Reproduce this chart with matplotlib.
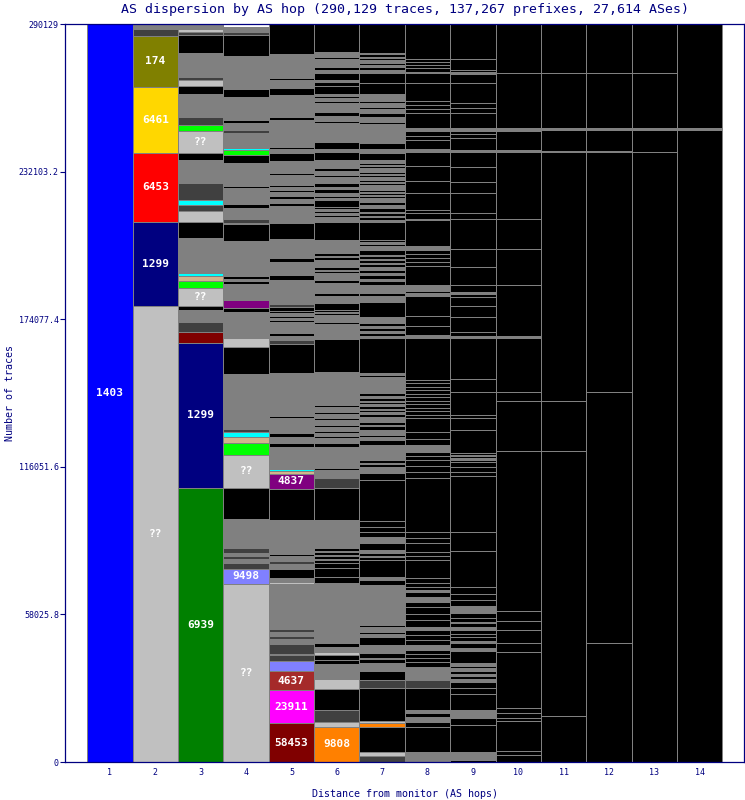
import matplotlib
matplotlib.use("Agg")
import matplotlib.pyplot as plt
import numpy as np

plt.rcParams['font.family'] = ['DejaVu Sans Mono']

TOTAL = 290129
hops = list(range(1, 15))
ytick_vals = [0, 58025.8, 116051.6, 174077.4, 232103.2, 290129]
ytick_labels = ["0", "58025.8", "116051.6", "174077.4", "232103.2", "290129"]

# segments bottom -> top : (AS key, thousands of traces)
# K = trace ended, G = many small ASes, D = dark grey, C/T/L = small unlabeled ASes
hop1 = [("1403", 290.13)]
hop2 = [("??", 179.46), ("1299", 33.04), ("6453", 27.14), ("6461", 25.96), ("174", 20.06), ("D", 2.75), ("G", 1.73)]
hop3 = [("6939", 107.88), ("1299", 56.79), ("58453", 4.56), ("D", 3.70), ("G", 4.84), ("K", 1.69), ("??", 7.08),
        ("L", 2.75), ("T", 1.85), ("C", 1.06), ("G", 13.77), ("K", 6.53), ("??", 4.33), ("D", 2.12), ("C", 1.97),
        ("D", 6.80), ("L", 0.51), ("G", 8.53), ("K", 2.87), ("??", 8.65), ("L", 2.12), ("D", 3.26), ("C", 0.51),
        ("G", 3.93), ("T", 0.39), ("G", 4.33), ("K", 2.87), ("??", 2.36), ("D", 1.46), ("G", 9.44), ("K", 6.80),
        ("D", 1.34), ("??", 1.30), ("G", 1.74)]
hop4 = [("??", 70.01), ("9498", 6.02), ("D", 2.12), ("G", 1.57), ("D", 1.18), ("G", 1.18), ("D", 1.97),
        ("G", 11.64), ("K", 12.19), ("??", 12.98), ("L", 4.60), ("T", 2.48), ("C", 1.97),
        ("D", 0.90), ("G", 0.90), ("D", 0.39), ("G", 0.67), ("4837", 0.67), ("G", 0.67), ("D", 0.39), ("G", 0.67),
        ("D", 0.39), ("G", 0.67), ("D", 0.39), ("G", 2.32),
        ("G", 13.49), ("K", 10.89), ("??", 3.26), ("G", 10.38), ("K", 1.42), ("4837", 3.30), ("T", 0.51),
        ("G", 5.62), ("K", 1.18), ("G", 0.79), ("K", 1.46), ("G", 13.65), ("K", 6.53), ("G", 0.67), ("D", 1.57),
        ("G", 4.33), ("K", 1.57), ("G", 6.29), ("K", 0.59), ("G", 2.75), ("K", 0.59), ("G", 5.90), ("K", 2.87),
        ("L", 2.24), ("C", 0.67), ("G", 6.02), ("D", 1.06), ("G", 2.87), ("K", 1.18), ("G", 9.05), ("K", 2.87),
        ("G", 3.15), ("K", 0.39), ("G", 9.71), ("K", 8.14), ("D", 1.30), ("G", 1.93)]
hop5 = [("58453", 15.22), ("23911", 13.18), ("4637", 7.20), ("9498", 3.93), ("D", 2.36), ("G", 0.39), ("D", 4.21),
        ("G", 1.97), ("D", 1.18), ("G", 1.57), ("D", 1.18), ("9808", 0.39), ("G", 17.22), ("??", 0.79), ("G", 1.57),
        ("K", 3.42), ("G", 2.08), ("D", 1.30), ("G", 1.97), ("K", 0.55), ("G", 1.97), ("G", 11.52), ("K", 12.31),
        ("4837", 5.90), ("T", 1.06), ("C", 0.90), ("G", 8.65), ("K", 1.34), ("G", 2.48), ("K", 1.69), ("G", 0.67),
        ("G", 2.36), ("K", 0.59), ("G", 2.36), ("K", 0.59), ("G", 3.54), ("G", 13.49), ("K", 11.17), ("D", 1.69),
        ("G", 1.57), ("K", 1.30), ("G", 2.64), ("G", 1.57), ("K", 0.67), ("G", 0.90), ("K", 0.67), ("G", 1.30),
        ("K", 0.79), ("K", 1.57), ("D", 1.06), ("G", 9.44), ("K", 2.08), ("G", 5.11), ("K", 1.57), ("G", 7.35),
        ("K", 6.53), ("G", 6.45), ("K", 1.42), ("G", 1.34), ("K", 1.30), ("G", 1.69), ("K", 0.67), ("G", 1.18),
        ("K", 0.67), ("G", 2.75), ("K", 0.63), ("G", 0.67), ("K", 0.67), ("G", 4.84), ("K", 3.03), ("G", 1.81),
        ("K", 0.67), ("G", 0.39), ("K", 0.39), ("G", 8.14), ("K", 0.63), ("G", 1.18), ("K", 1.06), ("G", 8.65),
        ("K", 2.87), ("G", 3.03), ("K", 0.79), ("G", 9.44), ("K", 11.69)]
hop6 = [("9808", 13.88), ("??", 1.73), ("D", 4.96), ("K", 8.14), ("??", 3.93), ("G", 2.87), ("D", 0.39), ("G", 2.52),
        ("K", 1.77), ("K", 1.89), ("??", 1.30), ("G", 1.97), ("K", 1.34), ("G", 3.66), ("D", 0.39), ("G", 19.55),
        ("K", 2.60), ("K", 3.30), ("K", 1.97), ("K", 1.18), ("G", 0.39), ("K", 1.18), ("G", 0.39), ("K", 1.18),
        ("G", 0.39), ("K", 1.18), ("G", 11.13), ("K", 12.70), ("D", 3.70), ("G", 1.57), ("K", 0.59), ("G", 1.18),
        ("K", 0.59), ("G", 1.30), ("G", 7.20), ("K", 1.34),
        ("G", 1.97), ("K", 0.79), ("G", 1.18), ("K", 0.79), ("G", 1.57), ("K", 0.79), ("G", 1.97), ("K", 0.79),
        ("G", 1.57), ("K", 0.79), ("G", 1.97), ("K", 0.79), ("G", 0.79),
        ("G", 12.43), ("K", 12.86), ("G", 5.90), ("K", 0.90), ("G", 2.64), ("K", 0.79), ("G", 0.39), ("K", 0.79),
        ("K", 2.87), ("G", 2.64), ("K", 1.06), ("G", 3.93), ("K", 1.30), ("G", 2.64), ("K", 0.79), ("G", 0.59),
        ("K", 1.22), ("G", 2.64), ("K", 0.98), ("G", 0.59), ("K", 1.06), ("G", 1.97), ("K", 0.59), ("G", 2.67),
        ("K", 7.20), ("G", 1.97), ("K", 0.79), ("G", 0.79), ("K", 0.79), ("G", 0.79), ("K", 0.79), ("K", 2.64),
        ("G", 0.67), ("K", 0.90), ("G", 1.06), ("K", 1.57), ("G", 1.02), ("K", 1.34), ("G", 2.60), ("K", 0.67),
        ("G", 1.30), ("K", 1.34), ("G", 3.26), ("K", 2.87), ("G", 1.34), ("K", 2.60), ("G", 6.29), ("K", 0.59),
        ("G", 0.79), ("K", 0.59), ("G", 0.67), ("G", 1.57), ("K", 1.30), ("G", 3.70), ("K", 0.63), ("G", 1.18),
        ("K", 0.79), ("G", 1.06), ("K", 3.15), ("K", 1.46), ("G", 0.90), ("K", 2.64), ("G", 1.30), ("K", 0.90),
        ("G", 1.18), ("K", 0.55), ("G", 1.69), ("K", 0.67), ("G", 1.97), ("K", 10.91)]
hop7 = [("D", 2.36), ("??", 1.69), ("K", 9.83), ("9808", 1.57), ("??", 0.79), ("K", 12.74), ("D", 3.26), ("K", 3.66),
        ("G", 2.91), ("K", 1.57), ("G", 0.59), ("K", 1.77), ("G", 3.26), ("K", 3.26), ("G", 1.18), ("K", 0.59),
        ("G", 0.79), ("K", 0.59), ("G", 0.79), ("K", 0.67), ("G", 15.73), ("K", 1.97), ("G", 1.30), ("K", 6.57),
        ("K", 1.18), ("G", 0.51), ("K", 1.18), ("G", 1.06), ("K", 2.64), ("G", 2.60), ("K", 1.97), ("K", 1.97),
        ("K", 2.24), ("K", 16.13), ("K", 2.64), ("G", 2.60), ("K", 1.18), ("G", 0.39), ("K", 1.06), ("G", 5.90),
        ("K", 1.97), ("G", 1.18), ("K", 0.59), ("G", 0.79), ("K", 0.59), ("G", 0.79), ("K", 1.57), ("G", 0.51),
        ("K", 1.18), ("G", 1.97),
        ("K", 1.18), ("G", 0.59), ("K", 0.79), ("G", 0.59), ("K", 1.18), ("G", 0.59), ("K", 0.79), ("G", 0.59),
        ("K", 1.18), ("G", 0.59), ("K", 1.14),
        ("G", 3.93), ("K", 0.63), ("G", 1.97), ("K", 0.59), ("G", 0.75), ("K", 13.77), ("G", 0.90), ("K", 1.18),
        ("G", 0.79), ("K", 1.18), ("G", 0.79), ("K", 1.18), ("G", 2.48), ("K", 5.90), ("G", 2.24), ("K", 1.06),
        ("G", 3.26), ("K", 1.57), ("G", 0.79), ("K", 1.57), ("G", 0.79), ("K", 1.18), ("G", 1.30), ("K", 1.18),
        ("G", 0.39), ("K", 1.18), ("G", 0.39), ("K", 1.18), ("G", 0.39), ("K", 1.85), ("G", 0.90), ("G", 0.79),
        ("K", 0.79), ("G", 0.67), ("K", 0.79), ("K", 7.20), ("G", 0.67), ("K", 1.18), ("G", 0.39), ("K", 1.18),
        ("G", 0.39), ("K", 1.57), ("G", 1.18), ("K", 1.30), ("G", 1.34), ("K", 0.98), ("G", 0.39), ("K", 0.79),
        ("G", 0.39), ("K", 0.71), ("G", 1.97), ("K", 0.79), ("G", 0.39), ("K", 0.79), ("G", 1.30), ("K", 0.79),
        ("G", 0.39), ("K", 0.79), ("G", 1.34), ("K", 0.79), ("G", 0.39), ("K", 0.79), ("G", 1.30), ("K", 2.87),
        ("G", 1.34), ("K", 2.60), ("G", 1.34), ("K", 0.39), ("G", 4.84), ("G", 0.79), ("K", 0.59), ("G", 0.98),
        ("G", 1.30), ("K", 1.57), ("G", 1.34), ("K", 0.79), ("G", 1.57), ("K", 0.90), ("G", 2.75), ("K", 4.21),
        ("K", 3.93), ("G", 1.30), ("K", 1.06), ("G", 0.90), ("K", 0.90), ("G", 1.06), ("K", 0.67), ("G", 0.39),
        ("K", 1.18), ("G", 0.51), ("K", 11.29)]
hop8 = [("G", 1.57), ("9808", 0.39), ("G", 2.08), ("K", 9.83), ("K", 1.97), ("G", 1.97), ("K", 1.34), ("G", 1.30),
        ("K", 8.53), ("D", 3.26), ("G", 5.23), ("K", 1.97), ("K", 1.57), ("K", 1.57), ("K", 1.46), ("G", 1.97),
        ("K", 1.97), ("K", 1.97), ("K", 1.97), ("G", 1.30), ("K", 2.75), ("K", 2.36), ("K", 2.75), ("K", 1.97),
        ("G", 1.97), ("K", 1.97), ("G", 0.79), ("K", 1.18), ("K", 1.57), ("K", 1.73), ("K", 7.20), ("K", 1.57),
        ("K", 1.57), ("K", 3.42), ("K", 1.97), ("K", 2.60), ("K", 21.00), ("K", 2.36), ("K", 2.36), ("K", 2.48),
        ("K", 1.57), ("K", 1.69), ("G", 2.64), ("K", 2.36), ("K", 2.87), ("K", 5.27),
        ("K", 1.38), ("K", 1.38), ("K", 1.38), ("K", 1.38), ("K", 1.38), ("K", 1.38), ("K", 1.38), ("K", 1.38),
        ("K", 1.38), ("K", 1.38), ("K", 1.38),
        ("K", 16.40), ("G", 1.30), ("K", 3.54), ("K", 3.66), ("K", 7.87), ("G", 1.18), ("K", 0.94), ("G", 1.18),
        ("G", 1.30), ("K", 7.20), ("K", 1.57), ("K", 1.57), ("K", 1.57), ("K", 1.85), ("G", 1.30), ("K", 10.50),
        ("G", 0.39), ("K", 2.24), ("K", 1.30), ("K", 6.57), ("K", 4.56), ("K", 5.90), ("K", 5.66), ("G", 1.30),
        ("K", 3.54), ("K", 1.57), ("K", 1.69), ("G", 1.34), ("K", 5.90), ("K", 1.57), ("K", 1.57), ("K", 1.42),
        ("K", 7.24), ("K", 3.93), ("G", 0.51), ("K", 1.57), ("K", 1.18), ("K", 1.18), ("K", 1.06), ("K", 13.69)]
hop9 = [("K", 0.79), ("G", 3.26), ("K", 10.50), ("K", 2.64), ("G", 3.26), ("K", 6.17), ("K", 2.36), ("K", 2.60),
        ("G", 1.18), ("K", 1.18), ("G", 0.79), ("K", 1.18), ("G", 1.18), ("K", 0.79), ("G", 0.94), ("K", 4.84),
        ("G", 1.18), ("K", 1.85), ("G", 1.02), ("K", 1.38), ("K", 1.38), ("K", 1.46), ("G", 1.30), ("K", 1.57),
        ("G", 0.39), ("K", 1.57), ("K", 1.73), ("G", 2.99), ("K", 2.36), ("K", 2.36), ("K", 2.75), ("K", 14.04),
        ("K", 7.59), ("K", 22.02), ("K", 1.34), ("K", 1.97), ("K", 2.20), ("K", 0.79), ("G", 0.59), ("K", 0.79),
        ("G", 0.59), ("K", 0.67), ("K", 9.05), ("K", 4.60), ("K", 1.30), ("K", 9.16), ("K", 4.88), ("K", 16.13),
        ("G", 0.90), ("K", 1.69), ("K", 5.90), ("K", 4.21), ("K", 3.66), ("K", 1.18), ("G", 0.79), ("K", 2.64),
        ("K", 7.20), ("K", 6.84), ("K", 11.92), ("K", 2.36), ("K", 7.75), ("K", 4.56), ("K", 5.90), ("K", 5.66),
        ("G", 0.90), ("K", 4.60), ("K", 1.57), ("K", 1.42), ("G", 0.94), ("K", 5.90), ("K", 1.97), ("K", 1.97),
        ("K", 7.87), ("K", 3.66), ("G", 0.79), ("K", 0.79), ("K", 4.21), ("K", 13.77)]
hop10 = [("K", 2.75), ("K", 1.57), ("K", 11.80), ("K", 1.30), ("K", 1.97), ("K", 1.73), ("K", 22.02), ("K", 3.54),
         ("K", 5.23), ("K", 3.54), ("K", 3.93), ("K", 62.93), ("K", 19.67), ("K", 3.66), ("K", 21.00), ("G", 0.90),
         ("K", 20.06), ("K", 14.04), ("K", 11.92), ("K", 26.23), ("G", 0.90), ("K", 7.59), ("G", 0.94), ("K", 21.63),
         ("K", 19.27)]
hop11 = [("K", 18.09), ("K", 104.22), ("K", 19.67), ("K", 97.81), ("G", 0.51), ("K", 8.26), ("G", 0.67),
         ("K", 21.63), ("K", 19.27)]
hop12 = [("K", 46.68), ("K", 98.72), ("K", 94.39), ("G", 0.39), ("K", 8.38), ("G", 0.67), ("K", 21.63), ("K", 19.27)]
hop13 = [("K", 239.79), ("K", 8.77), ("G", 0.67), ("K", 21.63), ("K", 19.27)]
hop14 = [("K", 248.56), ("G", 0.67), ("K", 40.90)]

columns = [hop1, hop2, hop3, hop4, hop5, hop6, hop7, hop8, hop9, hop10, hop11, hop12, hop13, hop14]

colors = {"1403": "#0000FF", "174": "#808000", "6461": "#FFD700", "6453": "#FF0000", "1299": "#000080",
          "6939": "#008000", "9498": "#8080FF", "4837": "#800080", "4637": "#A52A2A", "23911": "#FF00FF",
          "58453": "#800000", "9808": "#FF8000", "??": "#C0C0C0", "K": "#000000", "G": "#808080",
          "D": "#404040", "C": "#00FFFF", "T": "#D2B48C", "L": "#00FF00"}
unlabeled = {"K", "G", "D", "C", "T", "L"}
NAVY = "#000080"

fig = plt.figure(figsize=(7.45, 8.0), dpi=100)
W, H = 745.0, 800.0
ax = fig.add_axes([65.3 / W, (H - 762) / H, (744 - 65.3) / W, (762 - 24.3) / H])

for x, segs in zip(hops, columns):
    keys = [k for k, _ in segs]
    vals = np.array([v for _, v in segs]) * 1000.0
    bottoms = np.concatenate([[0.0], np.cumsum(vals)[:-1]])
    ax.bar([x] * len(vals), vals, bottom=bottoms, width=1.0,
           color=[colors[k] for k in keys], edgecolor="#808080", linewidth=0.72,
           antialiased=False, zorder=2)
    for k, v, b in zip(keys, vals, bottoms):
        if k not in unlabeled and v >= 5000:
            ax.text(x, b + v / 2, k, ha="center", va="center", color="white",
                    fontsize=8, fontweight="bold", zorder=3)

ax.set_xlim(0.015, 14.978)
ax.set_ylim(0, TOTAL)
ax.set_xticks(hops, [str(h) for h in hops])
ax.set_yticks(ytick_vals, ytick_labels)
ax.tick_params(axis="x", length=0, pad=4, labelsize=6, labelcolor=NAVY)
ax.tick_params(axis="y", direction="out", length=3.6, width=0.8, pad=1, labelsize=6,
               color=NAVY, labelcolor=NAVY)
for s in ax.spines.values():
    s.set_color(NAVY)
    s.set_linewidth(0.9)
    s.set_zorder(4)

ax.set_title("AS dispersion by AS hop (290,129 traces, 137,267 prefixes, 27,614 ASes)",
             color=NAVY, fontsize=9.5, pad=8)
fig.text(404.6 / W, 1 - 794 / H, "Distance from monitor (AS hops)", ha="center", va="center",
         color=NAVY, fontsize=7.2)
fig.text(10 / W, 1 - 393 / H, "Number of traces", ha="center", va="center", rotation=90,
         color=NAVY, fontsize=7.2)

fig.savefig("out.png", dpi=100)
